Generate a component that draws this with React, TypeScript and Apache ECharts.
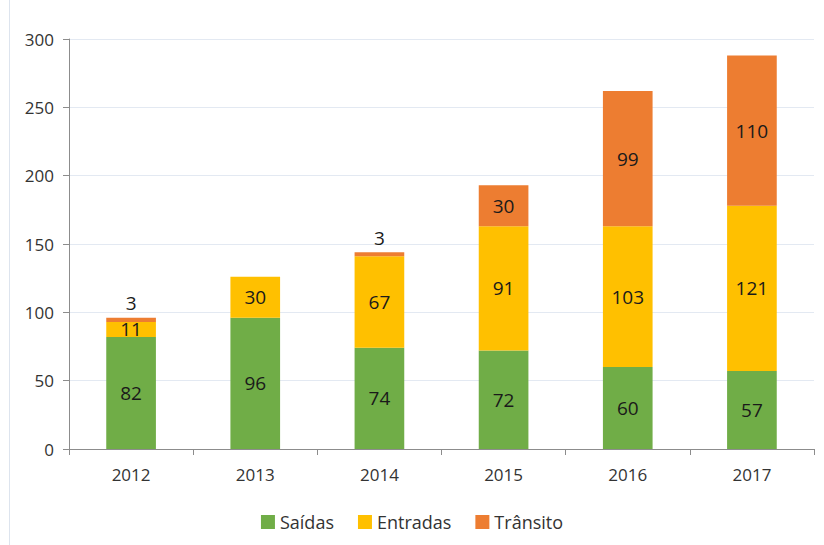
import React, { useEffect, useRef } from "react";
import * as echarts from "echarts";

const years = ["2012", "2013", "2014", "2015", "2016", "2017"];
const saidas = [82, 96, 74, 72, 60, 57];
const entradas = [11, 30, 67, 91, 103, 121];
const transito: (number | null)[] = [3, null, 3, 30, 99, 110];

const FONT = "'Open Sans', 'Noto Sans', sans-serif";

export default function App() {
  const ref = useRef<HTMLDivElement>(null);
  useEffect(() => {
    if (!ref.current) return;
    const chart = echarts.init(ref.current, undefined, { renderer: "svg" });
    const labelBase = { show: true, color: "#1a1a1a", fontSize: 19, fontFamily: FONT };
    chart.setOption({
      animation: false,
      textStyle: { fontFamily: FONT },
      graphic: [
        { type: "line", shape: { x1: 9.5, y1: 0, x2: 9.5, y2: 545 }, style: { stroke: "#dde4ee", lineWidth: 1 } },
      ],
      grid: { left: 69, right: 10, top: 39, bottom: 96, containLabel: false },
      legend: {
        bottom: 9,
        left: "center",
        itemWidth: 14,
        itemHeight: 14,
        itemGap: 24,
        icon: "rect",
        textStyle: { fontSize: 18, color: "#333", fontFamily: FONT },
        data: ["Saídas", "Entradas", "Trânsito"],
      },
      xAxis: {
        type: "category",
        data: years,
        axisLine: { lineStyle: { color: "#8c8c8c" } },
        axisTick: { show: true, length: 6, lineStyle: { color: "#8c8c8c" } },
        axisLabel: { fontSize: 17, color: "#333", margin: 17, fontFamily: FONT },
      },
      yAxis: {
        type: "value",
        min: 0,
        max: 300,
        interval: 50,
        axisLine: { show: true, lineStyle: { color: "#8c8c8c" } },
        axisTick: { show: true, length: 6, lineStyle: { color: "#8c8c8c" } },
        axisLabel: { fontSize: 17, color: "#333", margin: 15, fontFamily: FONT },
        splitLine: { lineStyle: { color: "#e3e9f2" } },
      },
      series: [
        {
          name: "Saídas",
          type: "bar",
          stack: "t",
          barWidth: "40%",
          data: saidas,
          itemStyle: { color: "#70ad47" },
          label: { ...labelBase, position: "inside" },
        },
        {
          name: "Entradas",
          type: "bar",
          stack: "t",
          data: entradas,
          itemStyle: { color: "#ffc000" },
          label: { ...labelBase, position: "inside" },
        },
        {
          name: "Trânsito",
          type: "bar",
          stack: "t",
          data: transito.map((v) =>
            v !== null && v < 10
              ? { value: v, label: { ...labelBase, position: "top", distance: 5 } }
              : v
          ),
          itemStyle: { color: "#ed7d31" },
          label: { ...labelBase, position: "inside" },
        },
      ],
    });
    return () => chart.dispose();
  }, []);
  return <div ref={ref} style={{ width: 824, height: 545, position: "absolute", left: 0, top: 0 }} />;
}
